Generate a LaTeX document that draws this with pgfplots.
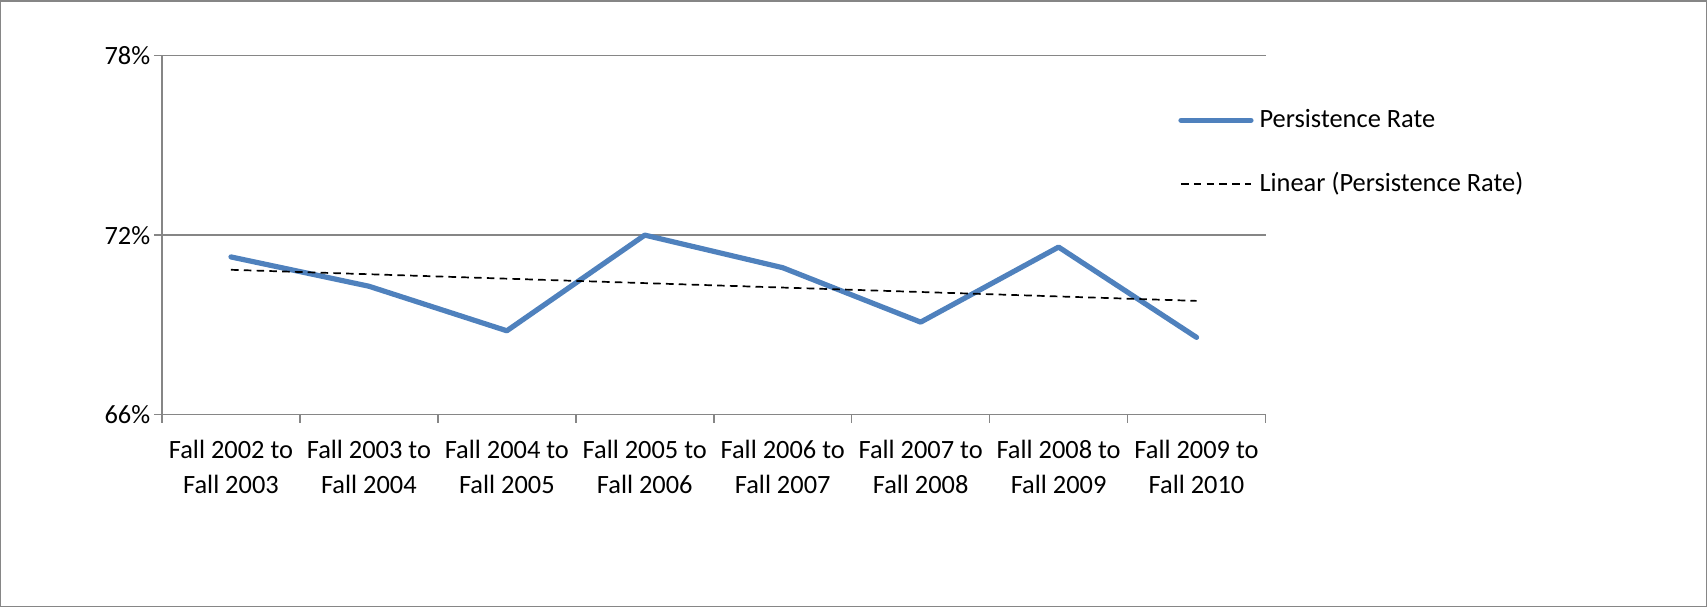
\documentclass[border=0pt]{standalone}
\usepackage{fontspec}
\setmainfont{Carlito}
\usepackage{pgfplots}
\pgfplotsset{compat=1.18}

\definecolor{excelblue}{RGB}{79,129,189}
\definecolor{gridgray}{RGB}{134,134,134}

\begin{document}
\fontsize{13.2}{17.5}\selectfont
\begin{tikzpicture}
    \begin{axis}[
        width=551.75pt,
        height=179.4pt,
        scale only axis,
        xmin=0.5, xmax=8.5,
        ymin=66, ymax=78,
        axis x line*=bottom,
        axis y line*=left,
        axis line style={gridgray, line width=0.75pt, -},
        tick align=outside,
        major tick length=4pt,
        tick style={gridgray, line width=0.75pt},
        xtick={0.5,1.5,2.5,3.5,4.5,5.5,6.5,7.5,8.5},
        xticklabels={},
        extra x ticks={1,2,3,4,5,6,7,8},
        extra x tick labels={
            {Fall 2002 to\\Fall 2003},
            {Fall 2003 to\\Fall 2004},
            {Fall 2004 to\\Fall 2005},
            {Fall 2005 to\\Fall 2006},
            {Fall 2006 to\\Fall 2007},
            {Fall 2007 to\\Fall 2008},
            {Fall 2008 to\\Fall 2009},
            {Fall 2009 to\\Fall 2010}
        },
        extra x tick style={major tick length=0pt, grid=none},
        x tick label style={align=center, yshift=-8pt,
            font=\fontsize{13.2}{17.5}\selectfont},
        ytick={66,72,78},
        yticklabels={66\%,72\%,78\%},
        y tick label style={xshift=2.7pt, font=\fontsize{13.2}{17.5}\selectfont},
        ymajorgrids,
        grid style={gridgray, line width=0.75pt},
        legend image code/.code={\draw[#1] (0pt,0pt) -- (35pt,0pt);},
        legend cell align=left,
        legend style={
            draw=none, fill=none,
            at={(axis description cs:0.9207,0.7304)},
            anchor=west,
            inner sep=0pt,
            row sep=20.5pt,
            column sep=3pt,
            nodes={inner sep=0pt},
            font=\fontsize{13.2}{17.5}\selectfont
        },
    ]
        \addplot[excelblue, line width=2.6pt, line join=round, line cap=round] coordinates {
            (1,71.27) (2,70.29) (3,68.80) (4,72.00)
            (5,70.91) (6,69.09) (7,71.60) (8,68.58)
        };
        \addlegendentry{Persistence Rate}
        \addplot[black, line width=0.85pt, dash pattern=on 3.8pt off 2.6pt] coordinates {
            (1,70.84) (8,69.80)
        };
        \addlegendentry{Linear (Persistence Rate)}
    \end{axis}
    \draw[gridgray, line width=0.75pt] (-80.625pt,-95.875pt) rectangle (772.125pt,206.875pt);
\end{tikzpicture}
\end{document}
